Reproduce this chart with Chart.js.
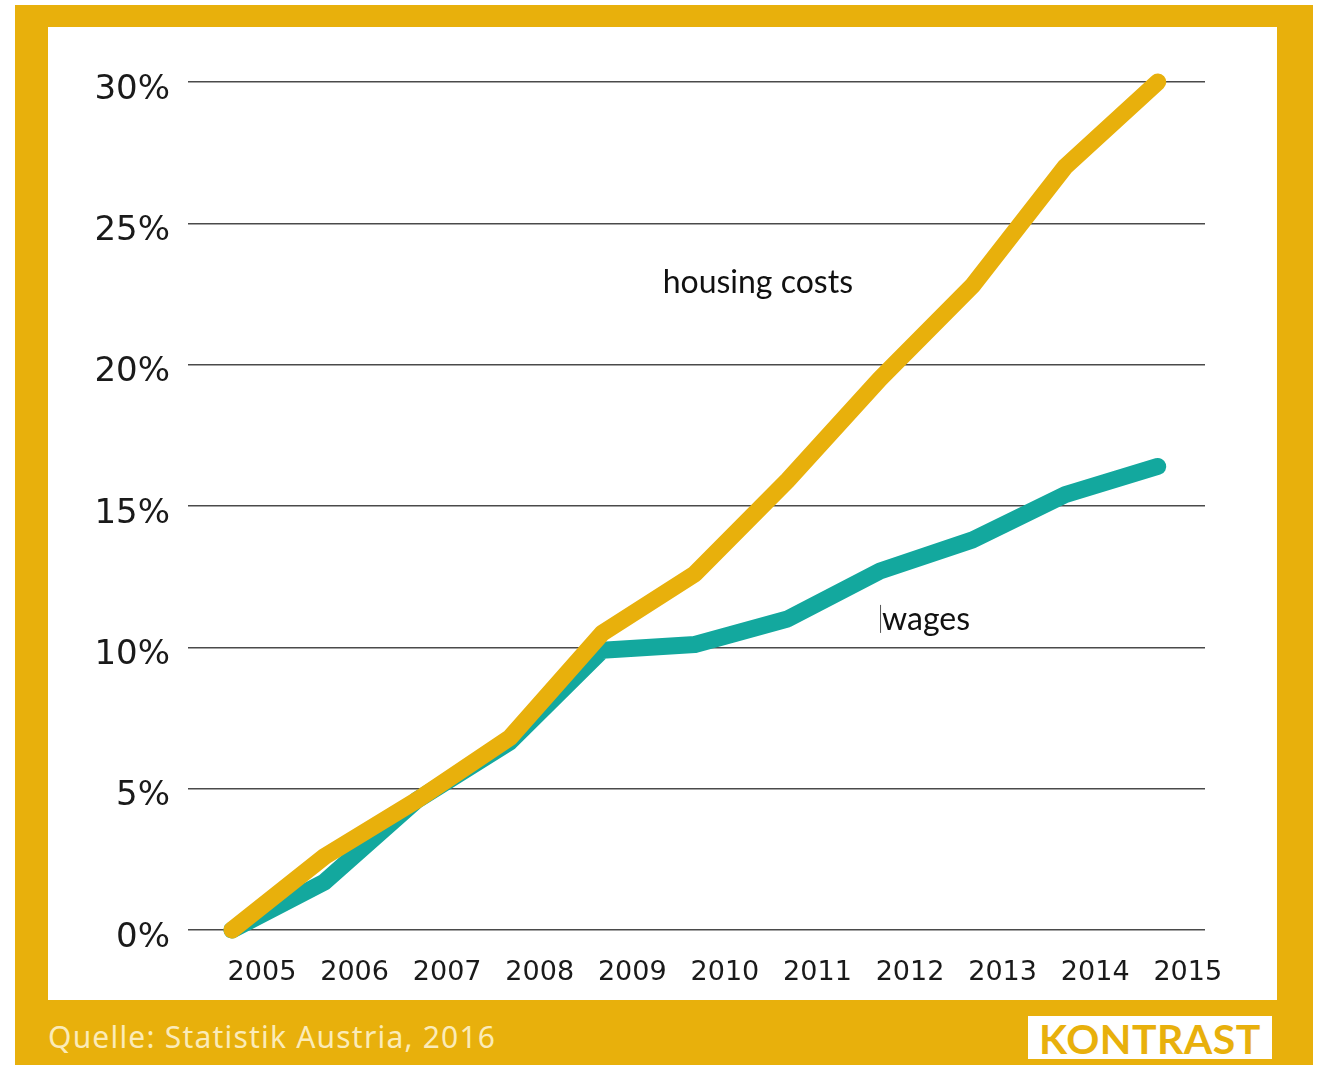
<!DOCTYPE html>
<html>
<head>
<meta charset="utf-8">
<script src="https://cdn.jsdelivr.net/npm/chart.js@4"></script>
<style>
  html, body { margin: 0; padding: 0; background: #ffffff; }
  body { width: 1325px; height: 1065px; position: relative; overflow: hidden; }
  #frame { position: absolute; left: 15px; top: 5px; width: 1298px; height: 1065px; background: #E8B00C; }
  #inner { position: absolute; left: 48px; top: 27px; width: 1229px; height: 973px; background: #ffffff; }
  #source { position: absolute; left: 48px; top: 1016px; font-family: "Noto Sans", sans-serif; font-size: 30px; color: #FBEBB8; letter-spacing: 1.2px; white-space: nowrap; }
  #logo { position: absolute; left: 1028px; top: 1016px; width: 244px; height: 43px; background: #ffffff; box-sizing: border-box; border: 3px solid #ffffff; }
  #logo span { display: block; text-align: center; font-family: "Lato", sans-serif; font-weight: 700; font-size: 41px; line-height: 41px; color: #E8B00C; letter-spacing: 0.5px; margin-top: -1px; }
</style>
</head>
<body>
<div id="frame"></div>
<div id="inner"><canvas id="c" width="1229" height="973"></canvas></div>
<div id="source">Quelle: Statistik Austria, 2016</div>
<div id="logo"><span>KONTRAST</span></div>
<script>
const years = [2005, 2006, 2007, 2008, 2009, 2010, 2011, 2012, 2013, 2014, 2015];
const housingCosts = [0, 2.6, 4.6, 6.8, 10.5, 12.6, 15.9, 19.5, 22.8, 27.0, 30.0];
const wages = [0, 1.7, 4.6, 6.65, 9.9, 10.1, 11.0, 12.7, 13.8, 15.4, 16.4];
const yTicks = [0, 5, 10, 15, 20, 25, 30];
const seriesLabels = ["housing costs", "wages"];

const GOLD = "#E8B00C";
const TEAL = "#13A89E";

function pts(vals) { return years.map((y, i) => ({ x: y, y: vals[i] })); }

const labelPlugin = {
  id: "seriesLabels",
  afterDatasetsDraw(chart) {
    const { ctx, scales: { x, y } } = chart;
    ctx.save();
    ctx.fillStyle = "#111111";
    ctx.font = "32px Lato, sans-serif";
    ctx.textBaseline = "middle";
    ctx.textAlign = "center";
    ctx.fillText(seriesLabels[0], x.getPixelForValue(2010.68), y.getPixelForValue(22.9));
    ctx.textAlign = "left";
    const wx = x.getPixelForValue(2012.0);
    const wy = y.getPixelForValue(10.97);
    ctx.fillText(seriesLabels[1], wx + 2, wy);
    ctx.strokeStyle = "#555555";
    ctx.lineWidth = 1;
    ctx.beginPath();
    ctx.moveTo(wx + 0.5, wy - 15);
    ctx.lineTo(wx + 0.5, wy + 13);
    ctx.stroke();
    ctx.restore();
  }
};

new Chart(document.getElementById("c"), {
  type: "line",
  data: {
    datasets: [
      { label: seriesLabels[1], data: pts(wages), borderColor: TEAL, borderWidth: 17, pointRadius: 0, tension: 0, borderCapStyle: "round", borderJoinStyle: "round", clip: false, order: 2 },
      { label: seriesLabels[0], data: pts(housingCosts), borderColor: GOLD, borderWidth: 17, pointRadius: 0, tension: 0, borderCapStyle: "round", borderJoinStyle: "round", clip: false, order: 1 }
    ]
  },
  options: {
    responsive: false,
    animation: false,
    layout: { padding: { top: 55, right: 72, left: 0, bottom: 0 } },
    plugins: { legend: { display: false }, tooltip: { enabled: false } },
    scales: {
      x: {
        type: "linear",
        min: 2004.525,
        max: 2015.51,
        afterBuildTicks(scale) { scale.ticks = years.map(v => ({ value: v })); },
        afterFit(scale) { scale.height = 70; },
        grid: { display: false },
        border: { display: false },
        ticks: {
          callback: v => String(v),
          labelOffset: 30,
          padding: 19,
          color: "#1a1a1a",
          font: { family: "DejaVu Sans", size: 27 },
          maxRotation: 0,
          autoSkip: false
        }
      },
      y: {
        min: 0,
        max: 30,
        afterBuildTicks(scale) { scale.ticks = yTicks.map(v => ({ value: v })); },
        afterFit(scale) { scale.width = 140; },
        grid: { color: "#4a4a4a", lineWidth: 1.5, drawTicks: false },
        border: { display: false },
        ticks: {
          callback: v => v + "%",
          padding: 18,
          labelOffset: 8,
          color: "#1a1a1a",
          font: { family: "DejaVu Sans", size: 34 }
        }
      }
    }
  },
  plugins: [labelPlugin]
});
</script>
</body>
</html>
